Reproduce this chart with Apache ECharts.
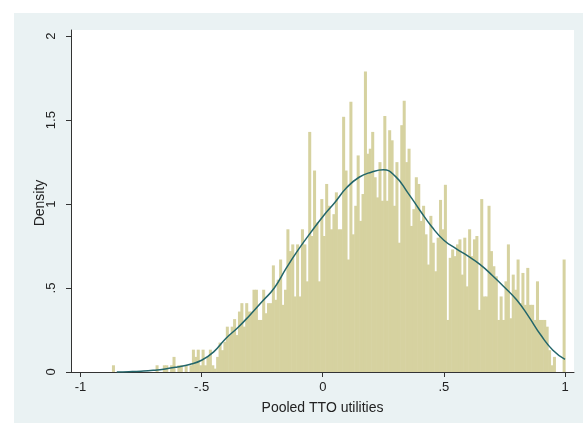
<!DOCTYPE html>
<html>
<head>
<meta charset="utf-8">
<script src="https://cdn.jsdelivr.net/npm/echarts@6/dist/echarts.min.js"></script>
<style>
  html, body { margin: 0; padding: 0; background: #fff; }
  #wrap { position: relative; width: 583px; height: 423px; }
  #bg { position: absolute; left: 14px; top: 13px; right: 0; bottom: 0; background: #eaf2f3; }
  #chart { position: absolute; left: 0; top: 0; width: 583px; height: 423px; }
</style>
</head>
<body>
<div id="wrap">
  <div id="bg"></div>
  <div id="chart"></div>
</div>
<script>
// histogram bins: width 0.01, first bin starts at -0.87, last ends at 1.0
const binStart = -0.87;
const binWidth = 0.01;
const binHeights = [
  // -0.87 .. -0.77
  0.04, 0, 0, 0, 0, 0, 0, 0, 0, 0,
  // -0.77 .. -0.67
  0, 0, 0, 0, 0, 0, 0, 0, 0.04, 0,
  // -0.67 .. -0.57
  0, 0.04, 0.04, 0, 0.04, 0.09, 0, 0.04, 0.04, 0,
  // -0.57 .. -0.47
  0.04, 0, 0.04, 0.133, 0.09, 0.133, 0.04, 0.133, 0.04, 0.09,
  // -0.47 .. -0.37
  0.133, 0.04, 0.02, 0.09, 0.175, 0.13, 0.18, 0.27, 0.22, 0.27,
  // -0.37 .. -0.27
  0.315, 0.22, 0.36, 0.41, 0.27, 0.41, 0.36, 0.36, 0.49, 0.49,
  // -0.27 .. -0.17
  0.31, 0.31, 0.49, 0.35, 0.41, 0.41, 0.635, 0.43, 0.55, 0.67,
  // -0.17 .. -0.07
  0.4, 0.49, 0.85, 0.72, 0.76, 0.45, 0.76, 0.45, 0.85, 0.76,
  // -0.07 .. 0.03
  0.54, 1.43, 0.81, 1.2, 0.89, 0.54, 1.03, 0.81, 1.12, 0.99,
  // 0.03 .. 0.13
  0.85, 0.94, 1.07, 0.85, 0.85, 1.52, 1.2, 0.67, 1.61, 0.82,
  // 0.13 .. 0.23
  0.99, 1.29, 0.9, 1.06, 1.79, 1.3, 1.33, 1.43, 1.16, 1.04,
  // 0.23 .. 0.33
  1.25, 1.02, 1.525, 1.02, 1.44, 1.38, 0.99, 1.25, 0.77, 1.47,
  // 0.33 .. 0.43
  1.615, 1.25, 1.33, 0.87, 0.97, 1.16, 1.12, 0.9, 0.99, 0.82,
  // 0.43 .. 0.53
  0.64, 0.93, 0.77, 0.6, 0.8, 1.025, 0.85, 1.115, 0.31, 0.68,
  // 0.53 .. 0.63
  0.73, 0.69, 0.76, 0.79, 0.58, 0.8, 0.51, 0.85, 0.69, 0.79,
  // 0.63 .. 0.73
  0.81, 0.37, 1.03, 0.45, 0.45, 0.99, 0.72, 0.63, 0.57, 0.31,
  // 0.73 .. 0.83
  0.45, 0.31, 0.54, 0.76, 0.32, 0.58, 0.49, 0.67, 0.41, 0.59,
  // 0.83 .. 0.93
  0.4, 0.62, 0.4, 0.4, 0.31, 0.54, 0.31, 0.31, 0.31, 0.27,
  // 0.93 .. 1.0
  0.13, 0.04, 0.09, 0, 0, 0, 0.67
];

// kernel density curve
const kdeX = [-0.85, -0.8, -0.75, -0.7, -0.65, -0.6, -0.55, -0.5, -0.45, -0.4,
  -0.35, -0.3, -0.25, -0.2, -0.15, -0.1, -0.05, 0, 0.05, 0.1,
  0.15, 0.2, 0.25, 0.3, 0.35, 0.4, 0.45, 0.5, 0.55, 0.6,
  0.65, 0.7, 0.75, 0.8, 0.85, 0.9, 0.95, 1.0];
const kdeY = [0.0, 0.002, 0.005, 0.01, 0.018, 0.03, 0.045, 0.07, 0.12, 0.2,
  0.265, 0.34, 0.42, 0.5, 0.62, 0.73, 0.83, 0.925, 1.01, 1.1,
  1.16, 1.19, 1.205, 1.165, 1.07, 0.965, 0.865, 0.785, 0.735, 0.69,
  0.64, 0.575, 0.505, 0.43, 0.33, 0.22, 0.13, 0.075];

const xTicks = [-1, -0.5, 0, 0.5, 1];
const yTicks = [0, 0.5, 1, 1.5, 2];

// Stata style: drop the leading zero (".5", "-.5")
function stataLabel(v) {
  return String(v).replace(/^(-?)0\./, "$1.");
}

const bars = binHeights.map((h, i) => [binStart + i * binWidth, h]);
const curve = kdeX.map((x, i) => [x, kdeY[i]]);

const chart = echarts.init(document.getElementById("chart"));
const labelFont = { fontFamily: "Liberation Sans, Arial, sans-serif", fontSize: 13, color: "#222" };

chart.setOption({
  animation: false,
  backgroundColor: "transparent",
  grid: {
    left: 71, right: 9, top: 30, bottom: 51,
    show: true, backgroundColor: "#fff", borderWidth: 0
  },
  // y axis title placed by hand (the axis name kept snapping next to the labels)
  graphic: [{
    type: "text",
    x: 40, y: 203,
    rotation: Math.PI / 2,
    style: {
      text: "Density",
      fill: "#222",
      font: "14px Liberation Sans, Arial, sans-serif",
      align: "center",
      verticalAlign: "middle"
    }
  }],
  xAxis: {
    type: "value",
    min: -1.039, max: 1.037,
    name: "Pooled TTO utilities",
    nameLocation: "middle",
    nameGap: 29,
    nameTextStyle: { ...labelFont, fontSize: 14 },
    axisLine: { show: true, onZero: false, lineStyle: { color: "#333", width: 1 } },
    axisTick: { show: true, length: 5, customValues: xTicks, lineStyle: { color: "#333" } },
    axisLabel: { ...labelFont, margin: 9, customValues: xTicks, formatter: stataLabel },
    splitLine: { show: false }
  },
  yAxis: {
    type: "value",
    min: 0, max: 2.037,
    axisLine: { show: true, onZero: false, lineStyle: { color: "#333", width: 1 } },
    axisTick: { show: true, length: 5, customValues: yTicks, lineStyle: { color: "#333" } },
    axisLabel: { ...labelFont, margin: 13, rotate: 90, customValues: yTicks, formatter: stataLabel },
    splitLine: { show: false }
  },
  series: [
    {
      type: "custom",
      data: bars,
      renderItem: (params, api) => {
        const x0 = api.value(0);
        const h = api.value(1);
        if (!h) return null;
        const p0 = api.coord([x0, h]);
        const p1 = api.coord([x0 + binWidth, 0]);
        return {
          type: "rect",
          shape: { x: p0[0], y: p0[1], width: p1[0] - p0[0] + 0.6, height: p1[1] - p0[1] },
          style: { fill: "#d6d2a0" }
        };
      },
      z: 1
    },
    {
      type: "line",
      data: curve,
      smooth: true,
      symbol: "none",
      lineStyle: { color: "#23666a", width: 1.5 },
      z: 3
    }
  ]
});
</script>
</body>
</html>
